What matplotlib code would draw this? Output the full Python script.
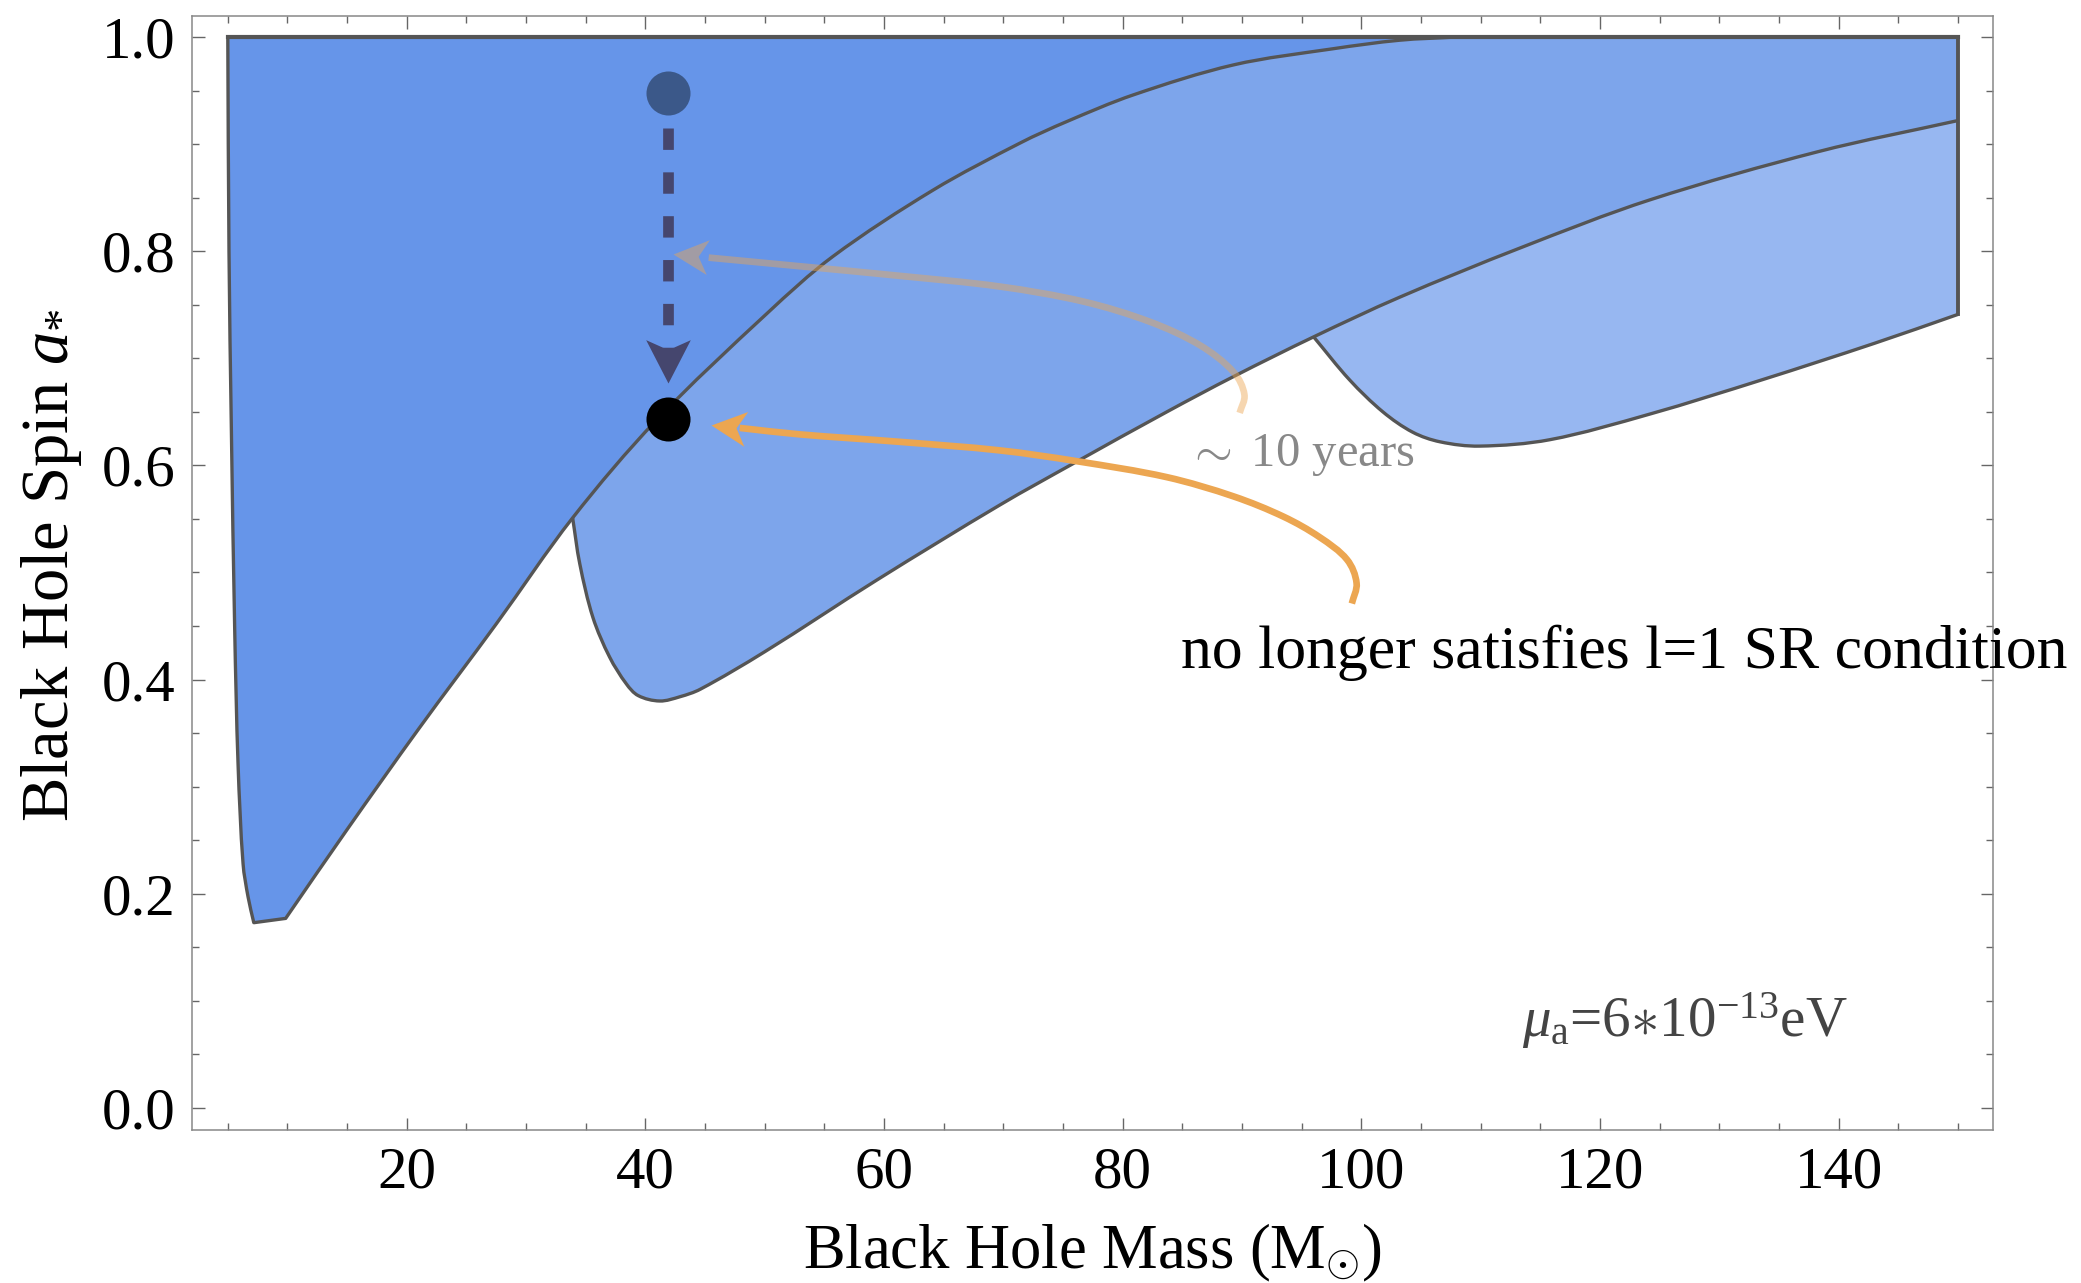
import numpy as np
import matplotlib
matplotlib.use("Agg")
import matplotlib.pyplot as plt
from matplotlib.path import Path
from matplotlib.patches import PathPatch
from matplotlib.markers import MarkerStyle
from matplotlib.transforms import Affine2D
from matplotlib.ticker import MultipleLocator

plt.rcParams['font.family'] = ['Liberation Serif', 'DejaVu Serif']
plt.rcParams['mathtext.fontset'] = 'custom'
plt.rcParams['mathtext.rm'] = 'Liberation Serif'
plt.rcParams['mathtext.it'] = 'Liberation Serif:italic'
plt.rcParams['mathtext.bf'] = 'Liberation Serif:bold'

# ---------------- data ----------------
spin_max = 1.0
# l=1 region: left boundary, top to bottom
l1_left_mass = [5.0, 5.1, 5.3, 5.58, 5.86, 6.28, 6.7, 7.18]
l1_left_spin = [1.0, 0.80, 0.633, 0.446, 0.321, 0.228, 0.197, 0.173]
# l=1 region: lower/right boundary, bottom to top
l1_edge_mass = [9.85, 15.0, 21.0, 27.5, 33.9, 40.9, 50.2, 55.7, 64.1, 71.4,
                75.3, 80.9, 89.3, 97.6, 103.2, 108.0]
l1_edge_spin = [0.177, 0.260, 0.354, 0.452, 0.551, 0.642, 0.742, 0.795, 0.857,
                0.901, 0.921, 0.946, 0.974, 0.989, 0.997, 1.0]
# l=2 region lower boundary
l2_mass = [33.9, 34.5, 35.6, 37.0, 38.4, 39.4, 41.2, 42.9, 44.6, 50.0, 59.4,
           69.7, 75.9, 83.7, 89.3, 96.0, 103.2, 113.3, 124.2, 138.3, 150.0]
l2_spin = [0.551, 0.508, 0.458, 0.421, 0.396, 0.385, 0.380, 0.384, 0.391, 0.426,
           0.493, 0.563, 0.602, 0.650, 0.683, 0.720, 0.757, 0.803, 0.848, 0.893, 0.922]
# l=3 region lower boundary
l3_mass = [96.0, 99.0, 101.8, 104.3, 106.6, 109.9, 115.8, 124.2, 133.6, 143.0, 150.0]
l3_spin = [0.720, 0.680, 0.650, 0.631, 0.622, 0.618, 0.624, 0.648, 0.680, 0.714, 0.741]

# markers
start_point = (41.9, 0.9475)
end_point = (41.9, 0.643)
dash_spin = [0.915, 0.705]
dash_tip = (41.9, 0.6767)

# curved annotation arrows (tail -> head base) and their tips
orange_path_mass = [99.2, 99.6, 98.8, 96.5, 93.5, 89.3, 83.7, 76.1, 69.7, 61.3, 52.9, 47.9]
orange_path_spin = [0.471, 0.490, 0.512, 0.533, 0.552, 0.571, 0.589, 0.604, 0.614, 0.622, 0.629, 0.635]
orange_tip = (45.5, 0.638)
faded_path_mass = [89.8, 90.2, 89.3, 86.5, 82.3, 76.7, 69.7, 61.3, 52.9, 45.3]
faded_path_spin = [0.649, 0.666, 0.687, 0.712, 0.734, 0.753, 0.767, 0.777, 0.786, 0.794]
faded_tip = (42.3, 0.797)

x_major = [20, 40, 60, 80, 100, 120, 140]
y_major = [0.0, 0.2, 0.4, 0.6, 0.8, 1.0]
y_labels = ["0.0", "0.2", "0.4", "0.6", "0.8", "1.0"]

# ---------------- styling ----------------
col1 = '#6695E9'
col2 = '#7DA5EB'
col3 = '#97B7F1'
edge = '#555555'
orange = '#ECA651'
dash_col = '#45466E'
dot_col = '#3B5889'

fig = plt.figure(figsize=(20.81, 12.83), dpi=100)
ax = fig.add_axes([192 / 2081, 1 - 1129.7 / 1283, 1801.3 / 2081, 1114 / 1283])
ax.set_xlim(2.0, 152.96)
ax.set_ylim(-0.0203, 1.0199)


def smooth_verts(xs, ys):
    """Cubic Bezier control points through the given points (drawn smoothly)."""
    P = ax.transData.transform(np.column_stack([xs, ys]))
    n = len(P)
    T = np.zeros_like(P)
    for i in range(n):
        if i == 0:
            d = P[1] - P[0]
        elif i == n - 1:
            d = P[-1] - P[-2]
        else:
            d = P[i + 1] - P[i - 1]
        T[i] = d / np.hypot(*d)
    verts = []
    for i in range(n - 1):
        L = np.hypot(*(P[i + 1] - P[i]))
        verts += [P[i] + T[i] * L / 3, P[i + 1] - T[i + 1] * L / 3, P[i + 1]]
    return list(ax.transData.inverted().transform(np.array(verts)))


class PB:
    def __init__(self):
        self.v, self.c = [], []

    def move(self, p):
        self.v.append(p); self.c.append(Path.MOVETO)

    def line(self, p):
        self.v.append(p); self.c.append(Path.LINETO)

    def curve(self, xs, ys):
        vv = smooth_verts(xs, ys)
        self.v += vv; self.c += [Path.CURVE4] * len(vv)

    def close(self):
        self.v.append(self.v[0]); self.c.append(Path.CLOSEPOLY)

    def path(self):
        return Path(np.array(self.v, dtype=float), self.c)


# region l=3 (lightest), extends under l=2
pc = PB()
pc.move((l3_mass[0], l3_spin[0]))
pc.curve(l3_mass, l3_spin)
pc.line((l3_mass[-1], spin_max))
pc.line((l3_mass[0], spin_max))
pc.close()
ax.add_patch(PathPatch(pc.path(), facecolor=col3, lw=0, zorder=1))

# region l=2
pb = PB()
pb.move((l2_mass[0], l2_spin[0]))
pb.curve(l2_mass, l2_spin)
pb.line((l2_mass[-1], spin_max))
pb.line((l2_mass[0], spin_max))
pb.close()
ax.add_patch(PathPatch(pb.path(), facecolor=col2, lw=0, zorder=2))

# region l=1
pa = PB()
pa.move((l1_left_mass[0], l1_left_spin[0]))
pa.curve(l1_left_mass, l1_left_spin)
pa.line((l1_edge_mass[0], l1_edge_spin[0]))
pa.curve(l1_edge_mass, l1_edge_spin)
pa.close()
ax.add_patch(PathPatch(pa.path(), facecolor=col1, lw=0, zorder=3))

lw_edge = 2.4
ax.add_patch(PathPatch(pa.path(), facecolor='none', edgecolor=edge, lw=lw_edge,
                       zorder=4, joinstyle='round'))
p2 = PB(); p2.move((l2_mass[0], l2_spin[0])); p2.curve(l2_mass, l2_spin)
ax.add_patch(PathPatch(p2.path(), facecolor='none', edgecolor=edge, lw=lw_edge, zorder=4))
p3 = PB(); p3.move((l3_mass[0], l3_spin[0])); p3.curve(l3_mass, l3_spin)
ax.add_patch(PathPatch(p3.path(), facecolor='none', edgecolor=edge, lw=lw_edge, zorder=4))
ax.plot([l2_mass[-1], l2_mass[-1]], [l3_spin[-1], spin_max], color=edge, lw=lw_edge + 0.4,
        zorder=4)
ax.plot([l1_left_mass[0], l2_mass[-1]], [spin_max, spin_max], color=edge, lw=lw_edge + 0.6,
        zorder=4, solid_capstyle='projecting')


def head_marker(tip, frm, length_pt, half_w, notch, color, alpha=1.0, z=7):
    p0 = ax.transData.transform(frm)
    p1 = ax.transData.transform(tip)
    ang = np.degrees(np.arctan2(p1[1] - p0[1], p1[0] - p0[0]))
    verts = [(0, 0), (-1, half_w), (-notch, 0), (-1, -half_w), (0, 0)]
    codes = [Path.MOVETO, Path.LINETO, Path.LINETO, Path.LINETO, Path.CLOSEPOLY]
    m = MarkerStyle(Path(verts, codes), transform=Affine2D().rotate_deg(ang))
    ax.plot([tip[0]], [tip[1]], marker=m, ms=2 * length_pt, color=color, mew=0,
            alpha=alpha, zorder=z, ls='none')


# faded arrow (~10 years)
pf = PB(); pf.move((faded_path_mass[0], faded_path_spin[0])); pf.curve(faded_path_mass, faded_path_spin)
ax.add_patch(PathPatch(pf.path(), facecolor='none', edgecolor=orange, alpha=0.45, lw=4.8,
                       capstyle='butt', zorder=5))
head_marker(faded_tip, (faded_path_mass[-1], faded_path_spin[-1]), 25.2, 0.5, 0.72,
            orange, alpha=0.45, z=5)

# orange arrow
po = PB(); po.move((orange_path_mass[0], orange_path_spin[0])); po.curve(orange_path_mass, orange_path_spin)
ax.add_patch(PathPatch(po.path(), facecolor='none', edgecolor=orange, lw=4.8,
                       capstyle='butt', zorder=6))
head_marker(orange_tip, (orange_path_mass[-1], orange_path_spin[-1]), 25.2, 0.5, 0.72,
            orange, z=6)

# dashed evolution arrow
ax.plot([start_point[0], start_point[0]], dash_spin, color=dash_col, lw=7.7,
        dashes=(2.0, 2.1), dash_capstyle='butt', zorder=7)
head_marker(dash_tip, (dash_tip[0], dash_spin[1] + 0.05), 31.2, 0.515, 0.77, dash_col, z=7)

ax.plot([start_point[0]], [start_point[1]], 'o', ms=31.7, color=dot_col, mew=0, zorder=8)
ax.plot([end_point[0]], [end_point[1]], 'o', ms=31.7, color='black', mew=0, zorder=8)

# texts
ax.text(85.4, 0.599, r'$\sim$ 10 years', color='#888888', fontsize=35, zorder=9)
ax.text(84.9, 0.4106, 'no longer satisfies l=1 SR condition', color='black',
        fontsize=44.5, zorder=9, clip_on=False)
ax.text(113.5, 0.066, r'$\mu_{\rm a}$=6$\ast$10$^{-13}$eV', color='#444444',
        fontsize=41, zorder=9)

# axes styling
ax.set_xticks(x_major)
ax.set_xticklabels([str(v) for v in x_major])
ax.set_yticks(y_major)
ax.set_yticklabels(y_labels)
ax.xaxis.set_minor_locator(MultipleLocator(5))
ax.yaxis.set_minor_locator(MultipleLocator(0.05))
ax.tick_params(which='both', direction='in', top=True, right=True,
               labeltop=False, labelright=False, color='#666666', width=1.0)
ax.tick_params(which='major', length=9, labelsize=42.5, pad=12)
ax.tick_params(which='minor', length=5)
for s in ax.spines.values():
    s.set_color('#888888')
    s.set_linewidth(1.1)

ax.set_xlabel(r'Black Hole Mass (M$_{\odot}$)', fontsize=45)
ax.set_ylabel(r'Black Hole Spin $a_{*}$', fontsize=48)
ax.xaxis.set_label_coords(0.5, -0.083)
ax.yaxis.set_label_coords(-0.060, 0.507)

fig.savefig('out.png', dpi=100)
